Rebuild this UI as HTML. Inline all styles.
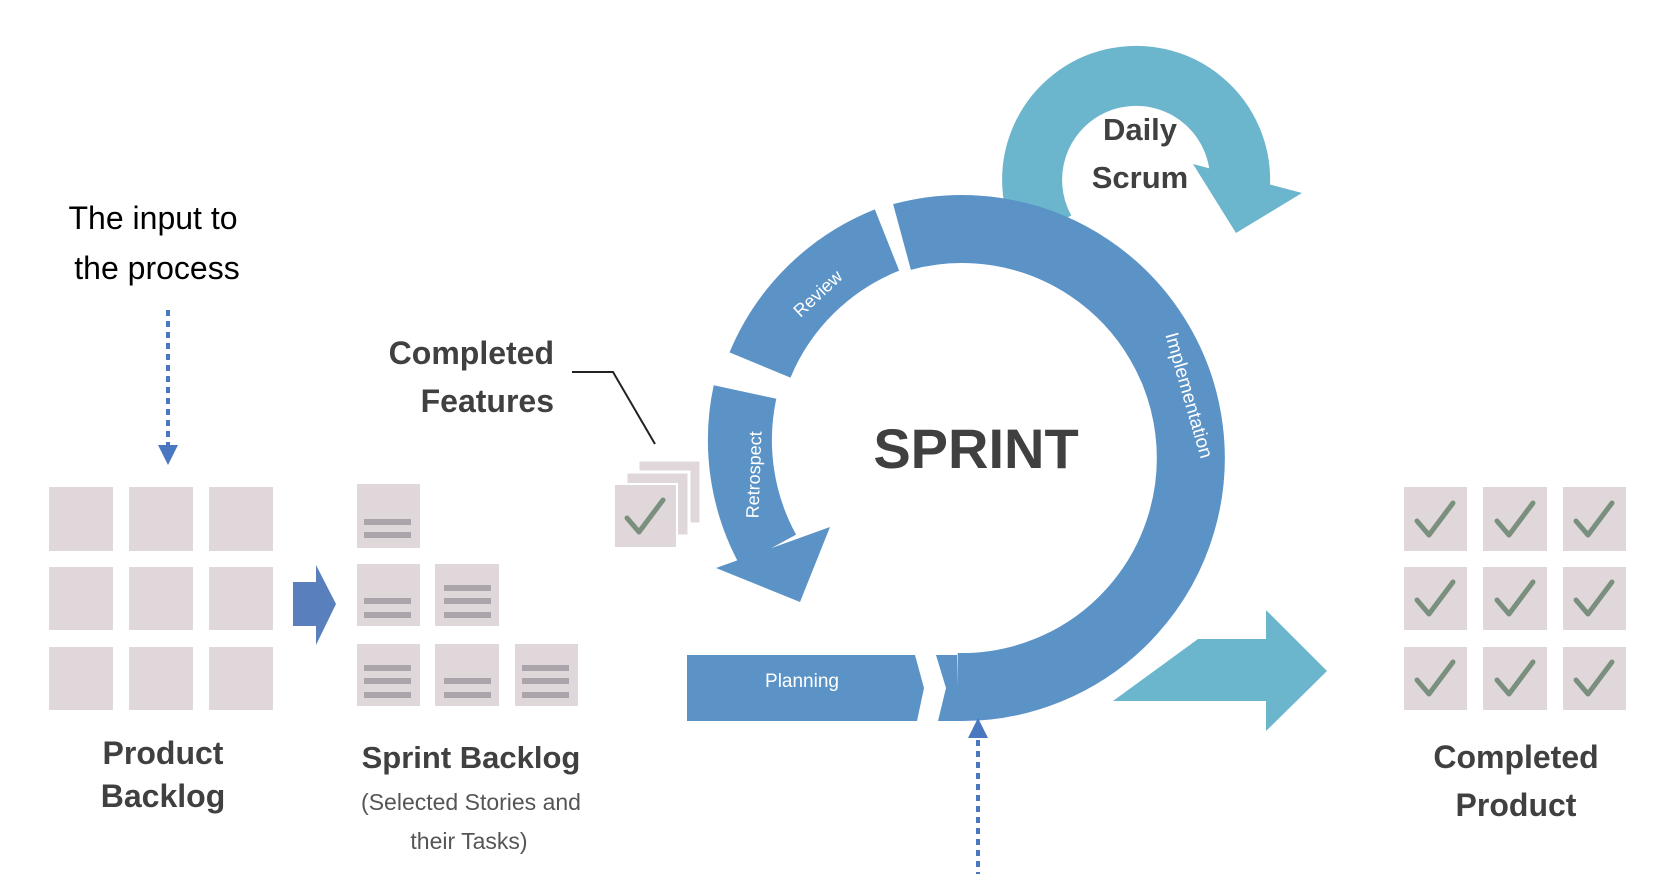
<!DOCTYPE html>
<html><head><meta charset="utf-8"><style>
html,body{margin:0;padding:0;background:#fff;}
svg{display:block}
</style></head><body>
<svg width="1668" height="874" viewBox="0 0 1668 874" xmlns="http://www.w3.org/2000/svg">
<defs>
<g id="chk"><path d="M12 32 L24 46 L48 14" fill="none" stroke="#7a8f7e" stroke-width="5" stroke-linecap="round" stroke-linejoin="round"/></g>
</defs>
<path d="M1045 230 A104 104 0 1 1 1240 185" fill="none" stroke="#6bb6cc" stroke-width="60"/>
<polygon points="1193,164 1302,193 1236,233" fill="#6bb6cc"/>
<polygon points="1113,701 1198,639 1266,639 1266,610 1327,671 1266,731 1266,701" fill="#6bb6cc"/>
<path d="M957,687 A229 229 0 1 0 902,237" fill="none" stroke="#5b93c7" stroke-width="68"/>
<path d="M887,240 A229 229 0 0 0 760,365" fill="none" stroke="#5b93c7" stroke-width="66"/>
<path d="M745,392 A229 229 0 0 0 768,550" fill="none" stroke="#5b93c7" stroke-width="64"/>
<polygon points="716,568 830,527 800,602" fill="#5b93c7"/>
<polygon points="687,655 915,655 924,688 917,721 687,721" fill="#5b93c7"/>
<polygon points="936,655 957,655 957,721 938,721 946,688" fill="#5b93c7"/>
<text x="802" y="682" font-family="Liberation Sans, sans-serif" font-size="19" fill="#fff" text-anchor="middle" dominant-baseline="middle">Planning</text>
<text transform="translate(822,298) rotate(-43)" font-family="Liberation Sans, sans-serif" font-size="18" fill="#fff" text-anchor="middle">Review</text>
<text transform="translate(760,475) rotate(-88)" font-family="Liberation Sans, sans-serif" font-size="18" fill="#fff" text-anchor="middle">Retrospect</text>
<text transform="translate(1183,397) rotate(74)" font-family="Liberation Sans, sans-serif" font-size="19" fill="#fff" text-anchor="middle">Implementation</text>
<text x="976" y="468" font-family="Liberation Sans, sans-serif" font-weight="bold" font-size="56" fill="#404040" text-anchor="middle">SPRINT</text>
<text x="1140" y="140" font-family="Liberation Sans, sans-serif" font-weight="bold" font-size="31" fill="#404040" text-anchor="middle">Daily</text>
<text x="1140" y="188" font-family="Liberation Sans, sans-serif" font-weight="bold" font-size="31" fill="#404040" text-anchor="middle">Scrum</text>
<text x="153" y="229" font-family="Liberation Sans, sans-serif" font-size="32" fill="#000" text-anchor="middle">The input to</text>
<text x="157" y="279" font-family="Liberation Sans, sans-serif" font-size="32" fill="#000" text-anchor="middle">the process</text>
<line x1="168" y1="310" x2="168" y2="448" stroke="#4a78c0" stroke-width="4" stroke-dasharray="6,5"/>
<polygon points="158,445 178,445 168,465" fill="#4a78c0"/>
<line x1="978" y1="740" x2="978" y2="874" stroke="#4a78c0" stroke-width="4" stroke-dasharray="6,5"/>
<polygon points="968,738 988,738 978,718" fill="#4a78c0"/>
<g fill="#e0d7da">
<rect x="49" y="487" width="64" height="64"/><rect x="129" y="487" width="64" height="64"/><rect x="209" y="487" width="64" height="64"/>
<rect x="49" y="567" width="64" height="63"/><rect x="129" y="567" width="64" height="63"/><rect x="209" y="567" width="64" height="63"/>
<rect x="49" y="647" width="64" height="63"/><rect x="129" y="647" width="64" height="63"/><rect x="209" y="647" width="64" height="63"/>
</g>
<text x="163" y="764" font-family="Liberation Sans, sans-serif" font-weight="bold" font-size="32" fill="#404040" text-anchor="middle">Product</text>
<text x="163" y="807" font-family="Liberation Sans, sans-serif" font-weight="bold" font-size="32" fill="#404040" text-anchor="middle">Backlog</text>
<polygon points="293,582 316,582 316,565 336,604 316,645 316,626 293,626" fill="#5a7fbd"/>
<g fill="#e0d7da">
<rect x="357" y="484" width="63" height="64"/>
<rect x="357" y="564" width="63" height="62"/><rect x="435" y="564" width="64" height="62"/>
<rect x="357" y="644" width="63" height="62"/><rect x="435" y="644" width="64" height="62"/><rect x="515" y="644" width="63" height="62"/>
</g>
<g fill="#aba5ab">
<rect x="364" y="519" width="47" height="6"/><rect x="364" y="532" width="47" height="6"/>
<rect x="364" y="598" width="47" height="6"/><rect x="364" y="612" width="47" height="6"/>
<rect x="444" y="585" width="47" height="6"/><rect x="444" y="598" width="47" height="6"/><rect x="444" y="612" width="47" height="6"/>
<rect x="364" y="665" width="47" height="6"/><rect x="364" y="678" width="47" height="6"/><rect x="364" y="692" width="47" height="6"/>
<rect x="444" y="678" width="47" height="6"/><rect x="444" y="692" width="47" height="6"/>
<rect x="522" y="665" width="47" height="6"/><rect x="522" y="678" width="47" height="6"/><rect x="522" y="692" width="47" height="6"/>
</g>
<text x="471" y="768" font-family="Liberation Sans, sans-serif" font-weight="bold" font-size="31" fill="#404040" text-anchor="middle">Sprint Backlog</text>
<text x="471" y="810" font-family="Liberation Sans, sans-serif" font-size="23" fill="#555" text-anchor="middle">(Selected Stories and</text>
<text x="469" y="849" font-family="Liberation Sans, sans-serif" font-size="23" fill="#555" text-anchor="middle">their Tasks)</text>
<rect x="638" y="460" width="63" height="64" fill="#e0d7da" stroke="#fff" stroke-width="3"/>
<rect x="626" y="472" width="63" height="64" fill="#e0d7da" stroke="#fff" stroke-width="3"/>
<rect x="614" y="484" width="63" height="64" fill="#e0d7da" stroke="#fff" stroke-width="2"/>
<use href="#chk" x="615" y="486"/>
<text x="554" y="364" font-family="Liberation Sans, sans-serif" font-weight="bold" font-size="32" fill="#404040" text-anchor="end">Completed</text>
<text x="554" y="412" font-family="Liberation Sans, sans-serif" font-weight="bold" font-size="32" fill="#404040" text-anchor="end">Features</text>
<polyline points="572,372 613,372 655,444" fill="none" stroke="#222" stroke-width="2"/>
<g fill="#e0d7da">
<rect x="1404" y="487" width="63" height="64"/><rect x="1483" y="487" width="64" height="64"/><rect x="1563" y="487" width="63" height="64"/>
<rect x="1404" y="567" width="63" height="63"/><rect x="1483" y="567" width="64" height="63"/><rect x="1563" y="567" width="63" height="63"/>
<rect x="1404" y="647" width="63" height="63"/><rect x="1483" y="647" width="64" height="63"/><rect x="1563" y="647" width="63" height="63"/>
</g>
<use href="#chk" x="1405" y="489"/><use href="#chk" x="1485" y="489"/><use href="#chk" x="1564" y="489"/>
<use href="#chk" x="1405" y="568"/><use href="#chk" x="1485" y="568"/><use href="#chk" x="1564" y="568"/>
<use href="#chk" x="1405" y="648"/><use href="#chk" x="1485" y="648"/><use href="#chk" x="1564" y="648"/>
<text x="1516" y="768" font-family="Liberation Sans, sans-serif" font-weight="bold" font-size="32" fill="#404040" text-anchor="middle">Completed</text>
<text x="1516" y="816" font-family="Liberation Sans, sans-serif" font-weight="bold" font-size="32" fill="#404040" text-anchor="middle">Product</text>
</svg>
</body></html>
